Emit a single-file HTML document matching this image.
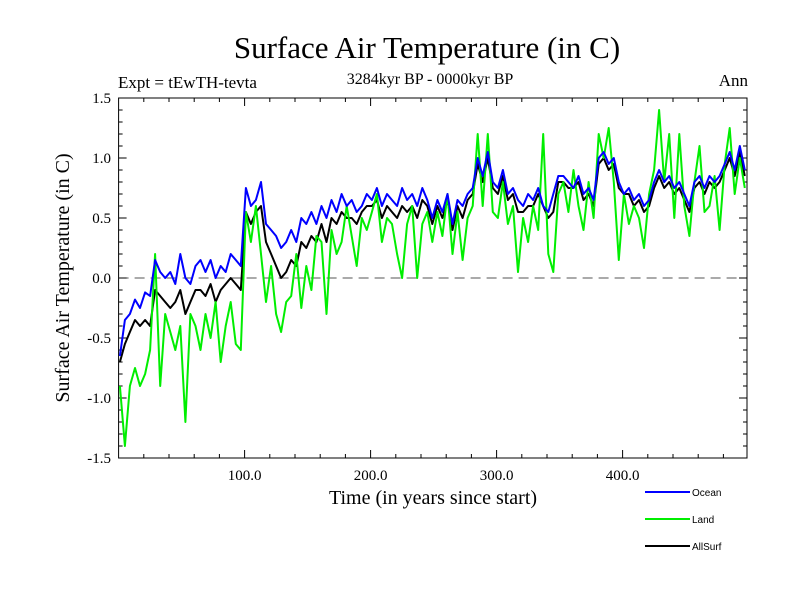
<!DOCTYPE html>
<html><head><meta charset="utf-8"><style>
body{margin:0;background:#fff}
svg{display:block}
text{font-family:"Liberation Serif",serif;fill:#000}
</style></head><body>
<svg id="chart" width="800" height="600" viewBox="0 0 800 600">
<text x="427" y="58" font-size="31" text-anchor="middle">Surface Air Temperature (in C)</text>
<text x="118" y="88" font-size="17">Expt = tEwTH-tevta</text>
<text x="430" y="84" font-size="16" text-anchor="middle">3284kyr BP - 0000kyr BP</text>
<text x="748" y="86" font-size="17" text-anchor="end">Ann</text>
<text x="433" y="504" font-size="20" text-anchor="middle">Time (in years since start)</text>
<text x="0" y="0" font-size="20" text-anchor="middle" transform="translate(69,278) rotate(-90)">Surface Air Temperature (in C)</text>
<g id="axes"></g>
<g id="series"></g>
<g id="legend"></g>
</svg>
<script>
const years=[];for(let t=0;t<=496;t+=4)years.push(t);
const ocean=[-0.65,-0.35,-0.3,-0.18,-0.25,-0.12,-0.15,0.15,0.05,0.0,0.05,-0.05,0.2,0.0,-0.05,0.1,0.15,0.05,0.15,0.0,0.1,0.05,0.2,0.15,0.1,0.75,0.6,0.65,0.8,0.45,0.4,0.35,0.25,0.3,0.4,0.3,0.5,0.45,0.55,0.45,0.6,0.5,0.65,0.55,0.7,0.6,0.65,0.55,0.6,0.7,0.65,0.75,0.6,0.7,0.65,0.6,0.75,0.65,0.7,0.6,0.75,0.65,0.5,0.65,0.55,0.7,0.45,0.65,0.6,0.7,0.75,1.0,0.85,1.05,0.8,0.75,0.9,0.7,0.75,0.65,0.6,0.7,0.65,0.75,0.6,0.55,0.7,0.85,0.85,0.8,0.75,0.85,0.7,0.75,0.65,1.0,1.05,0.95,1.0,0.8,0.7,0.75,0.65,0.7,0.6,0.65,0.8,0.9,0.8,0.85,0.75,0.8,0.7,0.6,0.8,0.85,0.75,0.85,0.8,0.85,0.95,1.05,0.9,1.1,0.9];
const land=[-0.9,-1.4,-0.9,-0.75,-0.9,-0.8,-0.6,0.2,-0.9,-0.3,-0.45,-0.6,-0.4,-1.2,-0.3,-0.4,-0.6,-0.3,-0.5,-0.2,-0.7,-0.4,-0.2,-0.55,-0.6,0.55,0.3,0.6,0.2,-0.2,0.1,-0.3,-0.45,-0.2,-0.15,0.2,-0.25,0.1,-0.1,0.35,0.3,-0.3,0.4,0.2,0.3,0.6,0.35,0.1,0.5,0.4,0.55,0.7,0.3,0.5,0.45,0.2,0.0,0.45,0.6,0.0,0.45,0.55,0.3,0.55,0.35,0.7,0.2,0.55,0.15,0.5,0.6,1.2,0.6,1.2,0.55,0.5,0.8,0.45,0.6,0.05,0.5,0.3,0.6,0.4,1.2,0.2,0.05,0.7,0.8,0.55,0.9,0.6,0.4,0.8,0.5,1.2,1.0,1.25,0.8,0.15,0.7,0.45,0.6,0.5,0.25,0.7,0.9,1.4,0.8,1.2,0.5,1.2,0.6,0.35,0.8,1.1,0.55,0.6,0.85,0.4,0.95,1.25,0.7,1.0,0.75];
const allsurf=[-0.7,-0.55,-0.45,-0.35,-0.4,-0.35,-0.4,-0.1,-0.15,-0.2,-0.25,-0.2,-0.1,-0.3,-0.2,-0.1,-0.1,-0.15,-0.05,-0.2,-0.1,-0.05,0.0,-0.05,-0.1,0.55,0.45,0.55,0.6,0.3,0.2,0.1,0.0,0.05,0.15,0.1,0.3,0.25,0.35,0.3,0.45,0.3,0.5,0.45,0.55,0.5,0.5,0.45,0.55,0.6,0.6,0.65,0.5,0.6,0.55,0.5,0.6,0.55,0.6,0.5,0.65,0.6,0.45,0.6,0.5,0.65,0.4,0.6,0.5,0.65,0.7,0.95,0.8,1.0,0.75,0.7,0.85,0.65,0.7,0.55,0.55,0.6,0.6,0.7,0.6,0.5,0.55,0.8,0.8,0.75,0.75,0.8,0.65,0.7,0.6,0.95,1.0,0.9,0.95,0.75,0.7,0.7,0.6,0.65,0.55,0.6,0.75,0.85,0.75,0.8,0.7,0.75,0.65,0.55,0.75,0.8,0.7,0.8,0.75,0.8,0.9,1.0,0.85,1.05,0.85];
const yTicks=[-1.5,-1.0,-0.5,0.0,0.5,1.0,1.5];
const yTickLabels=["-1.5","-1.0","-0.5","0.0","0.5","1.0","1.5"];
const xTicks=[100,200,300,400];
const xTickLabels=["100.0","200.0","300.0","400.0"];
const seriesNames=["AllSurf","Land","Ocean"];

const L=118.6,R=747,T=98,B=458,XMAX=(747-118.6)/1.26;
const xs=v=>L+v*(R-L)/XMAX;
const ys=v=>B-(v+1.5)*(B-T)/3;
const NS="http://www.w3.org/2000/svg";
function mk(tag,attrs,parent){const e=document.createElementNS(NS,tag);for(const k in attrs)e.setAttribute(k,attrs[k]);parent.appendChild(e);return e;}
const ax=document.getElementById('axes');
const frame=mk('rect',{x:L,y:T,width:R-L,height:B-T,fill:'none',stroke:'#000','stroke-width':1},ax);


const zl=mk('line',{x1:L,x2:R,y1:ys(0),y2:ys(0),stroke:'#555','stroke-width':1,'stroke-dasharray':'10,6'},ax);


for(let v=-1.5;v<=1.501;v+=0.1){const y=ys(v);const major=Math.abs(v*2-Math.round(v*2))<1e-6;const len=major?8:4;
 const t1=mk('line',{x1:L,x2:L+len,y1:y,y2:y,stroke:'#000'},ax);
 const t2=mk('line',{x1:R,x2:R-len,y1:y,y2:y,stroke:'#000'},ax);}
yTicks.forEach((v,i)=>{const t=mk('text',{x:111,y:ys(v)+5,'font-size':15,'text-anchor':'end'},ax);t.textContent=yTickLabels[i];
 });
for(let v=20;v<XMAX;v+=20){const x=xs(v);const major=v%100===0;const len=major?8:4;
 const t1=mk('line',{x1:x,x2:x,y1:B,y2:B-len,stroke:'#000'},ax);
 const t2=mk('line',{x1:x,x2:x,y1:T,y2:T+len,stroke:'#000'},ax);}
xTicks.forEach((v,i)=>{const t=mk('text',{x:xs(v),y:480,'font-size':15,'text-anchor':'middle'},ax);t.textContent=xTickLabels[i];
 });
const sg=document.getElementById('series');
function line(data,color,name){const d=data.map((v,i)=>(i?'L':'M')+xs(years[i]+1).toFixed(1)+','+ys(v).toFixed(1)).join('');
 const p=mk('path',{d:d,fill:'none',stroke:color,'stroke-width':2,'stroke-linejoin':'round'},sg);
 
 }
line(allsurf,'#000','allsurf-line');
line(land,'#00ee00','land-line');
line(ocean,'#0000ff','ocean-line');
const lg=document.getElementById('legend');
const legCols=['#000','#00ee00','#0000ff'];
const legY=[546,519,492];
seriesNames.forEach((n,i)=>{const l=mk('line',{x1:645,x2:690,y1:legY[i],y2:legY[i],stroke:legCols[i],'stroke-width':2},lg);
 
 const t=mk('text',{x:692,y:legY[i]+4,'font-size':10,style:'font-family:"Liberation Sans",sans-serif'},lg);t.textContent=n;
 });
</script>
</body></html>
